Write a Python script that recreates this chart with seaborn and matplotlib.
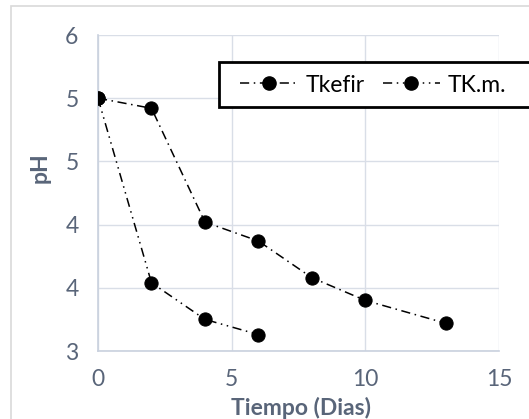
import matplotlib
matplotlib.use("Agg")
import matplotlib.pyplot as plt
import seaborn as sns
import pandas as pd
from matplotlib.lines import Line2D
from matplotlib.patches import Rectangle
from matplotlib.ticker import FixedLocator, FixedFormatter

# data
tkefir_x = [0, 2, 4, 6, 8, 10, 13]
tkefir_y = [5.0, 4.92, 4.02, 3.87, 3.58, 3.40, 3.22]
tkm_x = [0, 2, 4, 6]
tkm_y = [5.0, 3.54, 3.25, 3.13]
series_names = ["Tkefir", "TK.m."]
y_ticks = [3.0, 3.5, 4.0, 4.5, 5.0, 5.5]
y_tick_labels = ["3", "4", "4", "5", "5", "6"]
x_ticks = [0, 5, 10, 15]
x_tick_labels = ["0", "5", "10", "15"]

sns.set_theme(style="white")
plt.rcParams["font.family"] = ["Lato", "DejaVu Sans"]

txt_col = "#596579"
fs = 16.5
ms = 9.5

fig = plt.figure(figsize=(5.29, 4.19), dpi=100)
ax = fig.add_axes([98/529, 1-351/419, (499-98)/529, (351-35)/419])

fig.patches.append(Rectangle((11/529, -0.01), 1.0, 1-6/419+0.01, transform=fig.transFigure,
                             fill=False, edgecolor="#D9D9D9", linewidth=1.2, zorder=0))

ls1 = (0, (6, 3, 1, 3))
ls2 = (0, (6, 3, 1, 3, 1, 3))
df1 = pd.DataFrame({"x": tkefir_x, "y": tkefir_y})
df2 = pd.DataFrame({"x": tkm_x, "y": tkm_y})
sns.lineplot(data=df1, x="x", y="y", ax=ax, color="black", marker="o", markersize=ms,
             linewidth=1.1, linestyle=ls1, markeredgecolor="black", zorder=3)
sns.lineplot(data=df2, x="x", y="y", ax=ax, color="black", marker="o", markersize=ms,
             linewidth=1.1, linestyle=ls2, markeredgecolor="black", zorder=3)

ax.set_xlim(0, 15)
ax.set_ylim(3, 5.5)
ax.xaxis.set_major_locator(FixedLocator(x_ticks))
ax.xaxis.set_major_formatter(FixedFormatter(x_tick_labels))
ax.yaxis.set_major_locator(FixedLocator(y_ticks))
ax.yaxis.set_major_formatter(FixedFormatter(y_tick_labels))
ax.grid(True, color="#D9DEE7", linewidth=1.0)
ax.set_axisbelow(True)
for s in ["top", "right"]:
    ax.spines[s].set_visible(False)
for s in ["left", "bottom"]:
    ax.spines[s].set_color("#C9D1DE")
    ax.spines[s].set_linewidth(1.2)
ax.tick_params(axis="both", length=0, labelsize=fs, labelcolor=txt_col)
ax.tick_params(axis="x", pad=13)
ax.tick_params(axis="y", pad=14)
ax.set_xlabel("")
ax.set_ylabel("")

fig.text(301/529, 1-408/419, "Tiempo (Dias)", ha="center", va="center",
         fontsize=fs, fontweight="bold", color=txt_col)
fig.text(40/529, 1-168/419, "pH", ha="center", va="center", rotation=90,
         fontsize=fs, fontweight="bold", color=txt_col)

# legend frame
fig.patches.append(Rectangle((219/529, 1-107/419), (540-219)/529, 45/419, transform=fig.transFigure,
                             facecolor="white", edgecolor="black", linewidth=2.0, zorder=4))
handles = [Line2D([], [], color="black", linestyle=ls1, marker="o", markersize=ms, linewidth=1.1),
           Line2D([], [], color="black", linestyle=ls2, marker="o", markersize=ms, linewidth=1.1)]
leg = fig.legend(handles, series_names, loc="center left", bbox_to_anchor=(240/529, 1-85/419),
                 bbox_transform=fig.transFigure, ncol=2, fontsize=fs, frameon=False,
                 handlelength=2.5, columnspacing=0.8, handletextpad=0.35,
                 borderpad=0, borderaxespad=0)
leg.set_zorder(5)
for t in leg.get_texts():
    t.set_color("black")

fig.savefig("out.png", dpi=100)
